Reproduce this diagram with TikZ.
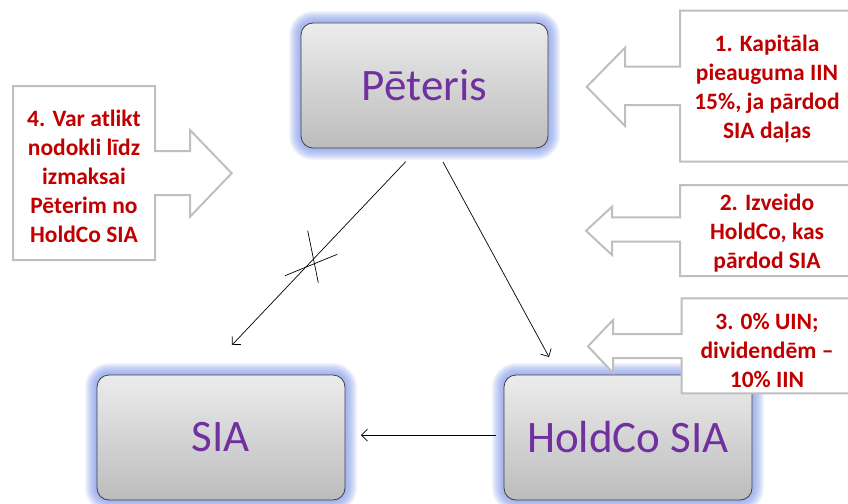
\documentclass[tikz,border=0pt]{standalone}
\usepackage{fontspec}
\setmainfont{Carlito}
\usetikzlibrary{arrows.meta}
\definecolor{glowc}{RGB}{120,145,230}
\definecolor{txtred}{RGB}{192,0,0}
\definecolor{txtpurple}{RGB}{112,48,160}
\definecolor{callgray}{RGB}{191,191,191}
\definecolor{boxtop}{RGB}{236,236,236}
\definecolor{boxbot}{RGB}{188,188,188}
\tikzset{
  mainbox/.style={draw=black!75, line width=0.8pt, rounded corners=12pt,
    top color=boxtop, bottom color=boxbot, text=txtpurple,
    font=\fontsize{45}{54}\selectfont, inner sep=0pt},
  calltext/.style={text=txtred, font=\fontsize{23.5}{29}\selectfont\bfseries, align=center, inner sep=0pt},
  callshape/.style={draw=callgray, line width=2pt, fill=white, line join=miter},
  link/.style={-{Straight Barb[length=6pt,width=12pt]}, line width=0.7pt},
  crossline/.style={line width=0.7pt},
}
\newcommand{\myglow}[4]{%
  \foreach \g [evaluate=\g as \r using 12+\g] in {1,...,12}{%
    \fill[glowc, opacity=0.09, rounded corners=\r pt] (#1-\g,#2-\g) rectangle (#3+\g,#4+\g);}}
\begin{document}
\begin{tikzpicture}[x=1pt,y=-1pt]
\useasboundingbox (0,0) rectangle (848,503);
\begin{scope}
\clip (0,0) rectangle (848,503);
% glows
\myglow{301}{23}{548}{148}
\myglow{97}{375}{345}{500}
\myglow{504}{375}{752}{500}
% main boxes
\node[mainbox, minimum width=247pt, minimum height=125pt] (peteris) at (424.5,85.5) {Pēteris};
\node[mainbox, minimum width=248pt, minimum height=125pt] (sia) at (221,437.5) {SIA};
\node[mainbox, minimum width=248pt, minimum height=125pt] (holdco) at (628,437.5) {HoldCo SIA};
% connectors
\coordinate (a1s) at (405.7,161.7);
\coordinate (a1e) at (232,345);
\coordinate (a2s) at (443,162);
\coordinate (a2e) at (549,357);
\coordinate (a3s) at (496,435);
\coordinate (a3e) at (361,435);
\draw[link] (a1s) -- (a1e);
\draw[link] (a2s) -- (a2e);
\draw[link] (a3s) -- (a3e);
% cross
\draw[crossline] (307.7,230.7) -- (318.3,282.7);
\draw[crossline] (285,275.7) -- (337.3,254.3);
% callout 1
\draw[callshape] (680,10.7) -- (860,10.7) -- (860,161.7) -- (680,161.7) -- (680,105) -- (625,105)
  -- (625,126) -- (586.7,86.8) -- (625,47.7) -- (625,66.7) -- (680,66.7) -- cycle;
\node[calltext] (c1) at (767,88.5) {1. Kapitāla\\pieauguma IIN\\15\%, ja pārdod\\SIA daļas};
% callout 2
\draw[callshape] (680,185) -- (860,185) -- (860,276) -- (680,276) -- (680,241.7) -- (612,241.7)
  -- (612,255) -- (586,230.8) -- (612,206.7) -- (612,217.3) -- (680,217.3) -- cycle;
\node[calltext] (c2) at (767,232.7) {2. Izveido\\HoldCo, kas\\pārdod SIA};
% callout 3
\draw[callshape] (681.7,298.3) -- (860,298.3) -- (860,393.3) -- (681.7,393.3) -- (681.7,358) -- (613,358)
  -- (613,372.7) -- (588,346.3) -- (613,320) -- (613,334) -- (681.7,334) -- cycle;
\node[calltext] (c3) at (767,350) {3. 0\% UIN;\\dividendēm –\\10\% IIN};
% callout 4
\draw[callshape] (13,86) -- (155,86) -- (155,151) -- (190,151) -- (190,130) -- (231.7,173.3)
  -- (190,216.7) -- (190,195) -- (155,195) -- (155,260) -- (13,260) -- cycle;
\node[calltext] (c4) at (84,176.5) {4. Var atlikt\\nodokli līdz\\izmaksai\\Pēterim no\\HoldCo SIA};
\end{scope}
\end{tikzpicture}
\end{document}
